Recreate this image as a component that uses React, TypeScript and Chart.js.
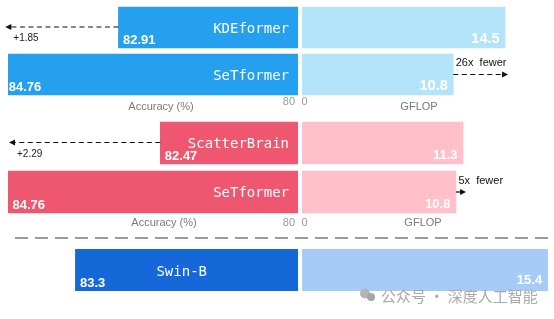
import React, { useEffect, useRef } from 'react';
import { Chart, registerables } from 'chart.js';

Chart.register(...registerables);

const CANVAS_W = 554;
const CANVAS_H = 319;

// ---------------- data ----------------
const kdeModels = ['KDEformer', 'SeTformer'];
const kdeAccuracy = [82.91, 84.76];
const kdeGflop = [14.5, 10.8];

const scatterModels = ['ScatterBrain', 'SeTformer'];
const scatterAccuracy = [82.47, 84.76];
const scatterGflop = [11.3, 10.8];

const swinModels = ['Swin-B'];
const swinAccuracy = [83.3];
const swinGflop = [15.4];

const accuracyGainLabels = ['+1.85', '+2.29'];
const flopSavingLabels = ['26x  fewer', '5x  fewer'];

const accuracyTickLabel = '80';
const gflopTickLabel = '0';
const accuracyAxisTitle = 'Accuracy (%)';
const gflopAxisTitle = 'GFLOP';
const watermarkText = '公众号 · 深度人工智能';

// axis ranges per panel (the original figure is not drawn to one common scale)
const accuracyAxisMin = [80, 80.4, 80];
const accuracyAxisMax = [84.7, 84.76, 84.3];
const gflopAxisMax = [17.71, 17.4, 15.55];

// ---------------- layout / style ----------------
const LEFT_AREA = { left: 8, right: 298 };
const RIGHT_AREA = { left: 302, right: 550 };
const ROWS = [
  { top: 4, bottom: 98, bar: 41 },
  { top: 118.5, bottom: 216.5, bar: 42 },
  { top: 249, bottom: 291, bar: 42 },
];
const MONO = '"DejaVu Sans Mono", "Liberation Mono", monospace';
const SANS = '"Liberation Sans", Arial, sans-serif';

type AxisText = { tickY: number; titleY: number; accTitleX: number; gflopTitleX: number } | null;

type Panel = {
  models: string[];
  accuracy: number[];
  gflop: number[];
  accMin: number;
  accMax: number;
  gflopMax: number;
  gain: string | null;
  saving: string | null;
  leftColor: string;
  rightColor: string;
  row: { top: number; bottom: number; bar: number };
  axisText: AxisText;
  centerNames: boolean;
  rightValueFont: number;
  rightValueDrop: number;
  decor: boolean;
};

const panels: Panel[] = [
  {
    models: kdeModels, accuracy: kdeAccuracy, gflop: kdeGflop,
    accMin: accuracyAxisMin[0], accMax: accuracyAxisMax[0], gflopMax: gflopAxisMax[0],
    gain: accuracyGainLabels[0], saving: flopSavingLabels[0],
    leftColor: '#24A0EE', rightColor: '#B3E4F9', row: ROWS[0],
    axisText: { tickY: 102, titleY: 106.5, accTitleX: 161, gflopTitleX: 419 },
    centerNames: false, rightValueFont: 14.5, rightValueDrop: 5.5, decor: false,
  },
  {
    models: scatterModels, accuracy: scatterAccuracy, gflop: scatterGflop,
    accMin: accuracyAxisMin[1], accMax: accuracyAxisMax[1], gflopMax: gflopAxisMax[1],
    gain: accuracyGainLabels[1], saving: flopSavingLabels[1],
    leftColor: '#EE576F', rightColor: '#FFC0C9', row: ROWS[1],
    axisText: { tickY: 222.5, titleY: 223, accTitleX: 164, gflopTitleX: 423 },
    centerNames: false, rightValueFont: 13, rightValueDrop: 5.5, decor: false,
  },
  {
    models: swinModels, accuracy: swinAccuracy, gflop: swinGflop,
    accMin: accuracyAxisMin[2], accMax: accuracyAxisMax[2], gflopMax: gflopAxisMax[2],
    gain: null, saving: null,
    leftColor: '#1667D7', rightColor: '#A6CBF6', row: ROWS[2],
    axisText: null,
    centerNames: true, rightValueFont: 13, rightValueDrop: 7.5, decor: true,
  },
];

function dashedArrow(ctx: CanvasRenderingContext2D, x1: number, x2: number, y: number) {
  const dir = Math.sign(x2 - x1) || 1;
  ctx.save();
  ctx.strokeStyle = '#111';
  ctx.fillStyle = '#111';
  ctx.lineWidth = 1.2;
  ctx.setLineDash([5, 3.5]);
  ctx.beginPath();
  ctx.moveTo(x1, y);
  ctx.lineTo(x2 - dir * 5, y);
  ctx.stroke();
  ctx.setLineDash([]);
  ctx.beginPath();
  ctx.moveTo(x2, y);
  ctx.lineTo(x2 - dir * 6, y - 3);
  ctx.lineTo(x2 - dir * 6, y + 3);
  ctx.closePath();
  ctx.fill();
  ctx.restore();
}

function barBox(bar: any) {
  const top = bar.y - bar.height / 2;
  const bottom = bar.y + bar.height / 2;
  const left = Math.min(bar.x, bar.base);
  const right = Math.max(bar.x, bar.base);
  return { top, bottom, left, right };
}

function leftPlugin(p: Panel) {
  return {
    id: 'leftLabels',
    afterDatasetsDraw(chart: any) {
      const ctx: CanvasRenderingContext2D = chart.ctx;
      const bars = chart.getDatasetMeta(0).data as any[];
      ctx.save();
      bars.forEach((bar, i) => {
        const b = barBox(bar);
        ctx.fillStyle = '#ffffff';
        ctx.textBaseline = 'alphabetic';
        ctx.font = `14px ${MONO}`;
        if (p.centerNames) {
          ctx.textAlign = 'center';
          ctx.fillText(p.models[i], (b.left + b.right) / 2 - 5, bar.y + 5.5);
        } else {
          ctx.textAlign = 'right';
          ctx.fillText(p.models[i], b.right - 9, bar.y + 5);
        }
        ctx.font = `bold 13px ${SANS}`;
        ctx.textAlign = 'left';
        ctx.fillText(String(p.accuracy[i]), b.left + 4.5, b.bottom - 4.5);
      });
      if (p.gain && bars.length > 1) {
        const b0 = barBox(bars[0]);
        const b1 = barBox(bars[1]);
        dashedArrow(ctx, b0.left, b1.left + 1, bars[0].y - 0.5);
        ctx.fillStyle = '#222';
        ctx.font = `10px ${SANS}`;
        ctx.textAlign = 'left';
        ctx.textBaseline = 'middle';
        ctx.fillText(p.gain, b1.left + 9, bars[0].y + 11);
      }
      if (p.axisText) {
        const xs = chart.scales.x;
        const base = xs.getPixelForValue(xs.min);
        ctx.textBaseline = 'middle';
        ctx.font = `11px ${SANS}`;
        ctx.fillStyle = '#9a9a9a';
        ctx.textAlign = 'right';
        ctx.fillText(accuracyTickLabel, base - 3, p.axisText.tickY);
        ctx.fillStyle = '#7a7a7a';
        ctx.textAlign = 'center';
        ctx.fillText(accuracyAxisTitle, p.axisText.accTitleX, p.axisText.titleY);
      }
      ctx.restore();
    },
  };
}

function rightPlugin(p: Panel) {
  return {
    id: 'rightLabels',
    afterDatasetsDraw(chart: any) {
      const ctx: CanvasRenderingContext2D = chart.ctx;
      const bars = chart.getDatasetMeta(0).data as any[];
      ctx.save();
      bars.forEach((bar, i) => {
        const b = barBox(bar);
        ctx.fillStyle = '#ffffff';
        ctx.font = `bold ${p.rightValueFont}px ${SANS}`;
        ctx.textAlign = 'right';
        ctx.textBaseline = 'alphabetic';
        ctx.fillText(String(p.gflop[i]), b.right - 5.5, b.bottom - p.rightValueDrop);
      });
      if (p.saving && bars.length > 1) {
        const b0 = barBox(bars[0]);
        const b1 = barBox(bars[1]);
        dashedArrow(ctx, b1.right, b0.right + 3, bars[1].y);
        ctx.fillStyle = '#111';
        ctx.font = `11px ${SANS}`;
        ctx.textAlign = 'left';
        ctx.textBaseline = 'middle';
        ctx.fillText(p.saving, b1.right + 2.5, bars[1].y - 11.5);
      }
      if (p.axisText) {
        const xs = chart.scales.x;
        const base = xs.getPixelForValue(0);
        ctx.textBaseline = 'middle';
        ctx.font = `11px ${SANS}`;
        ctx.fillStyle = '#9a9a9a';
        ctx.textAlign = 'left';
        ctx.fillText(gflopTickLabel, base - 0.5, p.axisText.tickY);
        ctx.fillStyle = '#7a7a7a';
        ctx.textAlign = 'center';
        ctx.fillText(gflopAxisTitle, p.axisText.gflopTitleX, p.axisText.titleY);
      }
      if (p.decor) {
        ctx.save();
        ctx.strokeStyle = '#9a9a9a';
        ctx.lineWidth = 2;
        ctx.setLineDash([13, 7]);
        ctx.beginPath();
        ctx.moveTo(15, 238);
        ctx.lineTo(548, 238);
        ctx.stroke();
        ctx.restore();
        ctx.fillStyle = '#b4b4b4';
        ctx.beginPath();
        ctx.arc(365, 293.5, 5, 0, Math.PI * 2);
        ctx.fill();
        ctx.fillStyle = '#a6a6a6';
        ctx.beginPath();
        ctx.arc(371, 297, 4, 0, Math.PI * 2);
        ctx.fill();
        ctx.fillStyle = '#a9a9a9';
        ctx.font = '15px "Noto Sans CJK SC", sans-serif';
        ctx.textAlign = 'left';
        ctx.textBaseline = 'middle';
        ctx.fillText(watermarkText, 381, 296);
      }
      ctx.restore();
    },
  };
}

function buildConfig(p: Panel, side: 'left' | 'right'): any {
  const area = side === 'left' ? LEFT_AREA : RIGHT_AREA;
  const values = side === 'left' ? p.accuracy : p.gflop;
  return {
    type: 'bar',
    data: {
      labels: p.models,
      datasets: [
        {
          data: values,
          base: side === 'left' ? p.accMin : 0,
          backgroundColor: side === 'left' ? p.leftColor : p.rightColor,
          borderWidth: 0,
          barThickness: p.row.bar,
        },
      ],
    },
    options: {
      indexAxis: 'y',
      animation: false,
      responsive: false,
      maintainAspectRatio: false,
      devicePixelRatio: 1,
      events: [],
      layout: {
        padding: {
          left: area.left,
          right: CANVAS_W - area.right,
          top: p.row.top,
          bottom: CANVAS_H - p.row.bottom,
        },
      },
      scales: {
        x: side === 'left'
          ? { display: false, reverse: true, min: p.accMin, max: p.accMax }
          : { display: false, min: 0, max: p.gflopMax },
        y: { display: false },
      },
      plugins: { legend: { display: false }, tooltip: { enabled: false } },
    },
    plugins: [side === 'left' ? leftPlugin(p) : rightPlugin(p)],
  };
}

const SPECS: { panel: Panel; side: 'left' | 'right' }[] = panels.flatMap((panel) => [
  { panel, side: 'left' as const },
  { panel, side: 'right' as const },
]);

export default function App() {
  const refs = useRef<(HTMLCanvasElement | null)[]>([]);
  useEffect(() => {
    const charts = SPECS.map((s, i) => new Chart(refs.current[i] as HTMLCanvasElement, buildConfig(s.panel, s.side)));
    return () => charts.forEach((c) => c.destroy());
  }, []);
  return (
    <div style={{ position: 'fixed', left: 0, top: 0, width: CANVAS_W, height: CANVAS_H, background: '#ffffff' }}>
      {SPECS.map((_, i) => (
        <canvas
          key={i}
          ref={(el) => {
            refs.current[i] = el;
          }}
          width={CANVAS_W}
          height={CANVAS_H}
          style={{ position: 'absolute', left: 0, top: 0, width: CANVAS_W, height: CANVAS_H }}
        />
      ))}
    </div>
  );
}
